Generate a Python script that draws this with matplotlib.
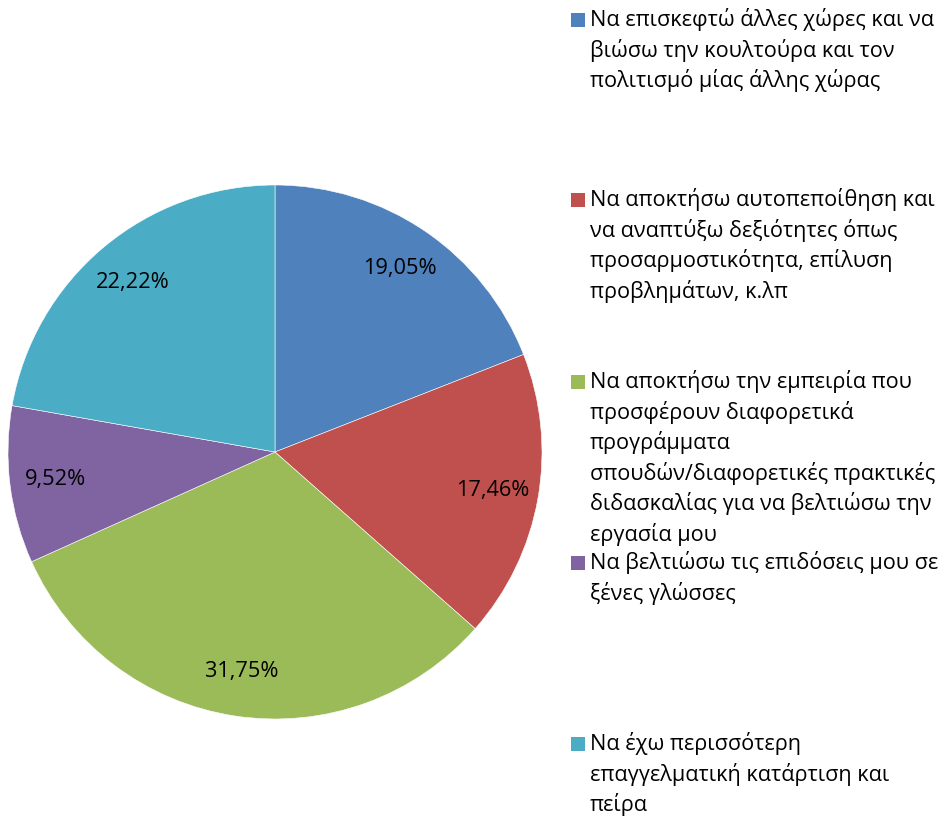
import matplotlib
matplotlib.use("Agg")
import matplotlib.pyplot as plt
from matplotlib.patches import Rectangle

labels = [
    "Να επισκεφτώ άλλες χώρες και να\nβιώσω την κουλτούρα και τον\nπολιτισμό μίας άλλης χώρας",
    "Να αποκτήσω αυτοπεποίθηση και\nνα αναπτύξω δεξιότητες όπως\nπροσαρμοστικότητα, επίλυση\nπροβλημάτων, κ.λπ",
    "Να αποκτήσω την εμπειρία που\nπροσφέρουν διαφορετικά\nπρογράμματα\nσπουδών/διαφορετικές πρακτικές\nδιδασκαλίας για να βελτιώσω την\nεργασία μου",
    "Να βελτιώσω τις επιδόσεις μου σε\nξένες γλώσσες",
    "Να έχω περισσότερη\nεπαγγελματική κατάρτιση και\nπείρα",
]
values = [19.05, 17.46, 31.75, 9.52, 22.22]
colors = ["#4F81BD", "#C0504D", "#9BBB59", "#8064A2", "#4BACC6"]

W, H = 949, 817
fig = plt.figure(figsize=(W / 100, H / 100), dpi=100)
plt.rcParams['font.family'] = ['Open Sans', 'DejaVu Sans']

cx, cy, r = 275, 452, 267
ax = fig.add_axes([(cx - r) / W, 1 - (cy + r) / H, 2 * r / W, 2 * r / H])
wedges, texts, autotexts = ax.pie(
    values, colors=colors, startangle=90, counterclock=False, radius=1,
    autopct=lambda p: f"{p:.2f}%".replace(".", ","), pctdistance=0.83,
    wedgeprops=dict(edgecolor="white", linewidth=0.4),
    textprops=dict(fontsize=15.7, color="black"))
ax.set_xlim(-1, 1)
ax.set_ylim(-1, 1)
ax.set_aspect("equal")
ax.axis("off")

marker_centers = [20, 200, 382, 563, 744]
line_step = 30.6
for lab, col, y in zip(labels, colors, marker_centers):
    fig.patches.append(Rectangle((571 / W, 1 - (y + 7) / H), 14 / W, 14 / H,
                                 transform=fig.transFigure, facecolor=col,
                                 edgecolor="none"))
    for i, line in enumerate(lab.split("\n")):
        base = y + 6 + i * line_step
        fig.text(590 / W, 1 - base / H, line, ha="left", va="baseline",
                 fontsize=15.6, color="black")

fig.savefig("out.png", dpi=100)
